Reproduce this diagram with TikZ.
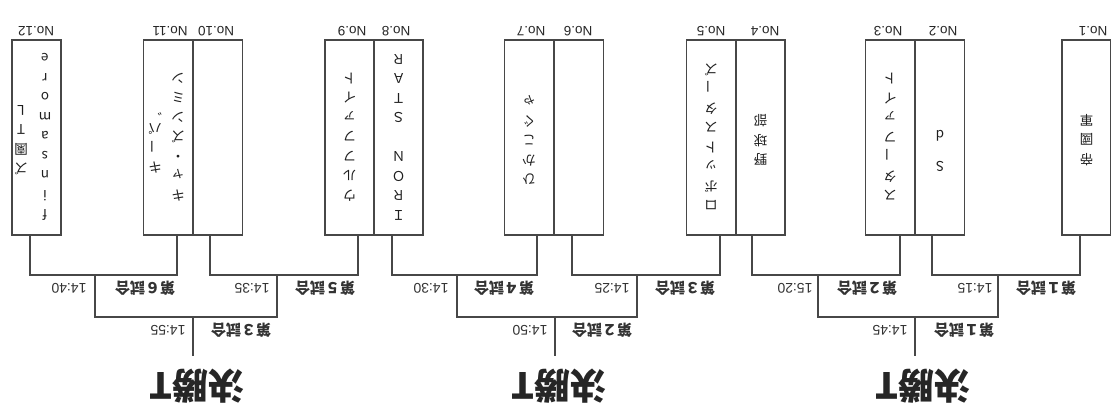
\documentclass[tikz,border=0pt]{standalone}
\usepackage{fontspec}
\usepackage{graphicx}
\setmainfont{Liberation Sans}
\newfontfamily\jp{Noto Sans CJK JP}
\newcommand{\vbar}{\rotatebox[origin=c]{-90}{ー}}
\begin{document}
\begin{tikzpicture}[x=1pt,y=-1pt,
  ln/.style={draw=black!72,line width=1.7pt},
  teambox/.style={draw=black!72,line width=1.5pt,minimum width=49pt,minimum height=195pt,inner sep=0pt},
  nolbl/.style={rotate=180,font=\fontsize{13.5}{13.5}\selectfont,inner sep=0pt,text=black!85},
  vt/.style={rotate=180,font=\jp\fontsize{13.5}{19.5}\selectfont,align=center,inner sep=0pt,text=black!88},
  game/.style={rotate=180,font=\jp\bfseries\fontsize{15}{15}\selectfont,inner sep=0pt,text=black!80},
  tm/.style={rotate=180,font=\fontsize{14}{14}\selectfont,inner sep=0pt,text=black!80},
  fin/.style={rotate=180,font=\jp\bfseries\fontsize{36}{36}\selectfont,inner sep=0pt,text=black!85},
]
\useasboundingbox (0,0) rectangle (1111,416);
% team boxes
\node[teambox] (b12) at (36.5,137.5) {};
\node[teambox] (b11) at (168,137.5) {};
\node[teambox] (b10) at (218,137.5) {};
\node[teambox] (b9) at (349.5,137.5) {};
\node[teambox] (b8) at (398.5,137.5) {};
\node[teambox] (b7) at (529,137.5) {};
\node[teambox] (b6) at (579,137.5) {};
\node[teambox] (b5) at (711,137.5) {};
\node[teambox] (b4) at (760.5,137.5) {};
\node[teambox] (b3) at (890,137.5) {};
\node[teambox] (b2) at (940,137.5) {};
\node[teambox] (b1) at (1086.5,137.5) {};
% number labels
\node[nolbl] (n12) at (36,31) {No.12};
\node[nolbl] (n11) at (170,31) {No.11};
\node[nolbl] (n10) at (216,31) {No.10};
\node[nolbl] (n9) at (352,31) {No.9};
\node[nolbl] (n8) at (396,31) {No.8};
\node[nolbl] (n7) at (531,31) {No.7};
\node[nolbl] (n6) at (578,31) {No.6};
\node[nolbl] (n5) at (711,31) {No.5};
\node[nolbl] (n4) at (765,31) {No.4};
\node[nolbl] (n3) at (888,31) {No.3};
\node[nolbl] (n2) at (943,31) {No.2};
\node[nolbl] (n1) at (1093,31) {No.1};
% team names
\node[vt] (t12a) at (45,137) {f\\i\\n\\s\\a\\m\\o\\r\\e};
\node[vt] (t12b) at (21,140) {ズ\\園\\T\\L};
\node[vt] (t11a) at (178,137) {キ\\ャ\\・\\ズ\\ン\\ミ\\ン};
\node[vt] (t11b) at (155,139) {キ\\\vbar\\パ\\゛};
\node[vt] (t9) at (349.5,137) {ウ\\ル\\フ\\フ\\ァ\\イ\\ト};
\node[vt] (t8) at (398.5,137) {Ｉ\\Ｒ\\Ｏ\\Ｎ\\\\Ｓ\\Ｔ\\Ａ\\Ｒ};
\node[vt] (t7) at (529,140) {ひ\\か\\こ\\ぐ\\ゃ};
\node[vt] (t5) at (711,137) {ロ\\ボ\\ッ\\ト\\ス\\タ\\\vbar\\ズ};
\node[vt] (t4) at (760.5,140) {野\\球\\部};
\node[vt] (t3) at (890,137) {ス\\タ\\\vbar\\フ\\ァ\\イ\\ト};
\node[vt] (t2) at (940,151) {S\\[12pt]d};
\node[vt] (t1) at (1086.5,140) {帝\\國\\軍};
% bracket junctions
\coordinate (j6) at (95,275);
\coordinate (j5) at (277,275);
\coordinate (j4) at (457,275);
\coordinate (j3) at (637,275);
\coordinate (j2) at (818,275);
\coordinate (j1) at (998,275);
\coordinate (f3) at (193,317);
\coordinate (f2) at (555,317);
\coordinate (f1) at (915,317);
\coordinate (s3) at (193,356);
\coordinate (s2) at (555,356);
\coordinate (s1) at (915,356);
% first round
\draw[ln] ([xshift=-6.5pt]b12.south) |- (j6) -| ([xshift=9pt]b11.south);
\draw[ln] ([xshift=-8pt]b10.south) |- (j5) -| ([xshift=8.5pt]b9.south);
\draw[ln] ([xshift=-6.5pt]b8.south) |- (j4) -| ([xshift=8pt]b7.south);
\draw[ln] ([xshift=-7pt]b6.south) |- (j3) -| ([xshift=9pt]b5.south);
\draw[ln] ([xshift=-8.5pt]b4.south) |- (j2) -| ([xshift=10pt]b3.south);
\draw[ln] ([xshift=-8pt]b2.south) |- (j1) -| ([xshift=-6.5pt]b1.south);
% second round
\draw[ln] (j6) |- (f3) -| (j5);
\draw[ln] (j4) |- (f2) -| (j3);
\draw[ln] (j2) |- (f1) -| (j1);
\draw[ln] (f3) -- (s3);
\draw[ln] (f2) -- (s2);
\draw[ln] (f1) -- (s1);
% match labels
\node[game] (g6) at (145,288) {第６試合};
\node[tm] (h6) at (69,288) {14:40};
\node[game] (g5) at (325,288) {第５試合};
\node[tm] (h5) at (252,288) {14:35};
\node[game] (g4) at (504,288) {第４試合};
\node[tm] (h4) at (431,288) {14:30};
\node[game] (g3) at (685,288) {第３試合};
\node[tm] (h3) at (612,288) {14:25};
\node[game] (g2) at (867,288) {第２試合};
\node[tm] (h2) at (795,288) {15:20};
\node[game] (g1) at (1046,288) {第１試合};
\node[tm] (h1) at (975,288) {14:15};
\node[game] (k3) at (241,330) {第３試合};
\node[tm] (m3) at (168,330) {14:55};
\node[game] (k2) at (602,330) {第２試合};
\node[tm] (m2) at (530,330) {14:50};
\node[game] (k1) at (964,330) {第１試合};
\node[tm] (m1) at (890,330) {14:45};
% finals labels
\node[fin] (F3) at (197,386) {決勝T};
\node[fin] (F2) at (559,386) {決勝T};
\node[fin] (F1) at (923,386) {決勝T};
\end{tikzpicture}
\end{document}
